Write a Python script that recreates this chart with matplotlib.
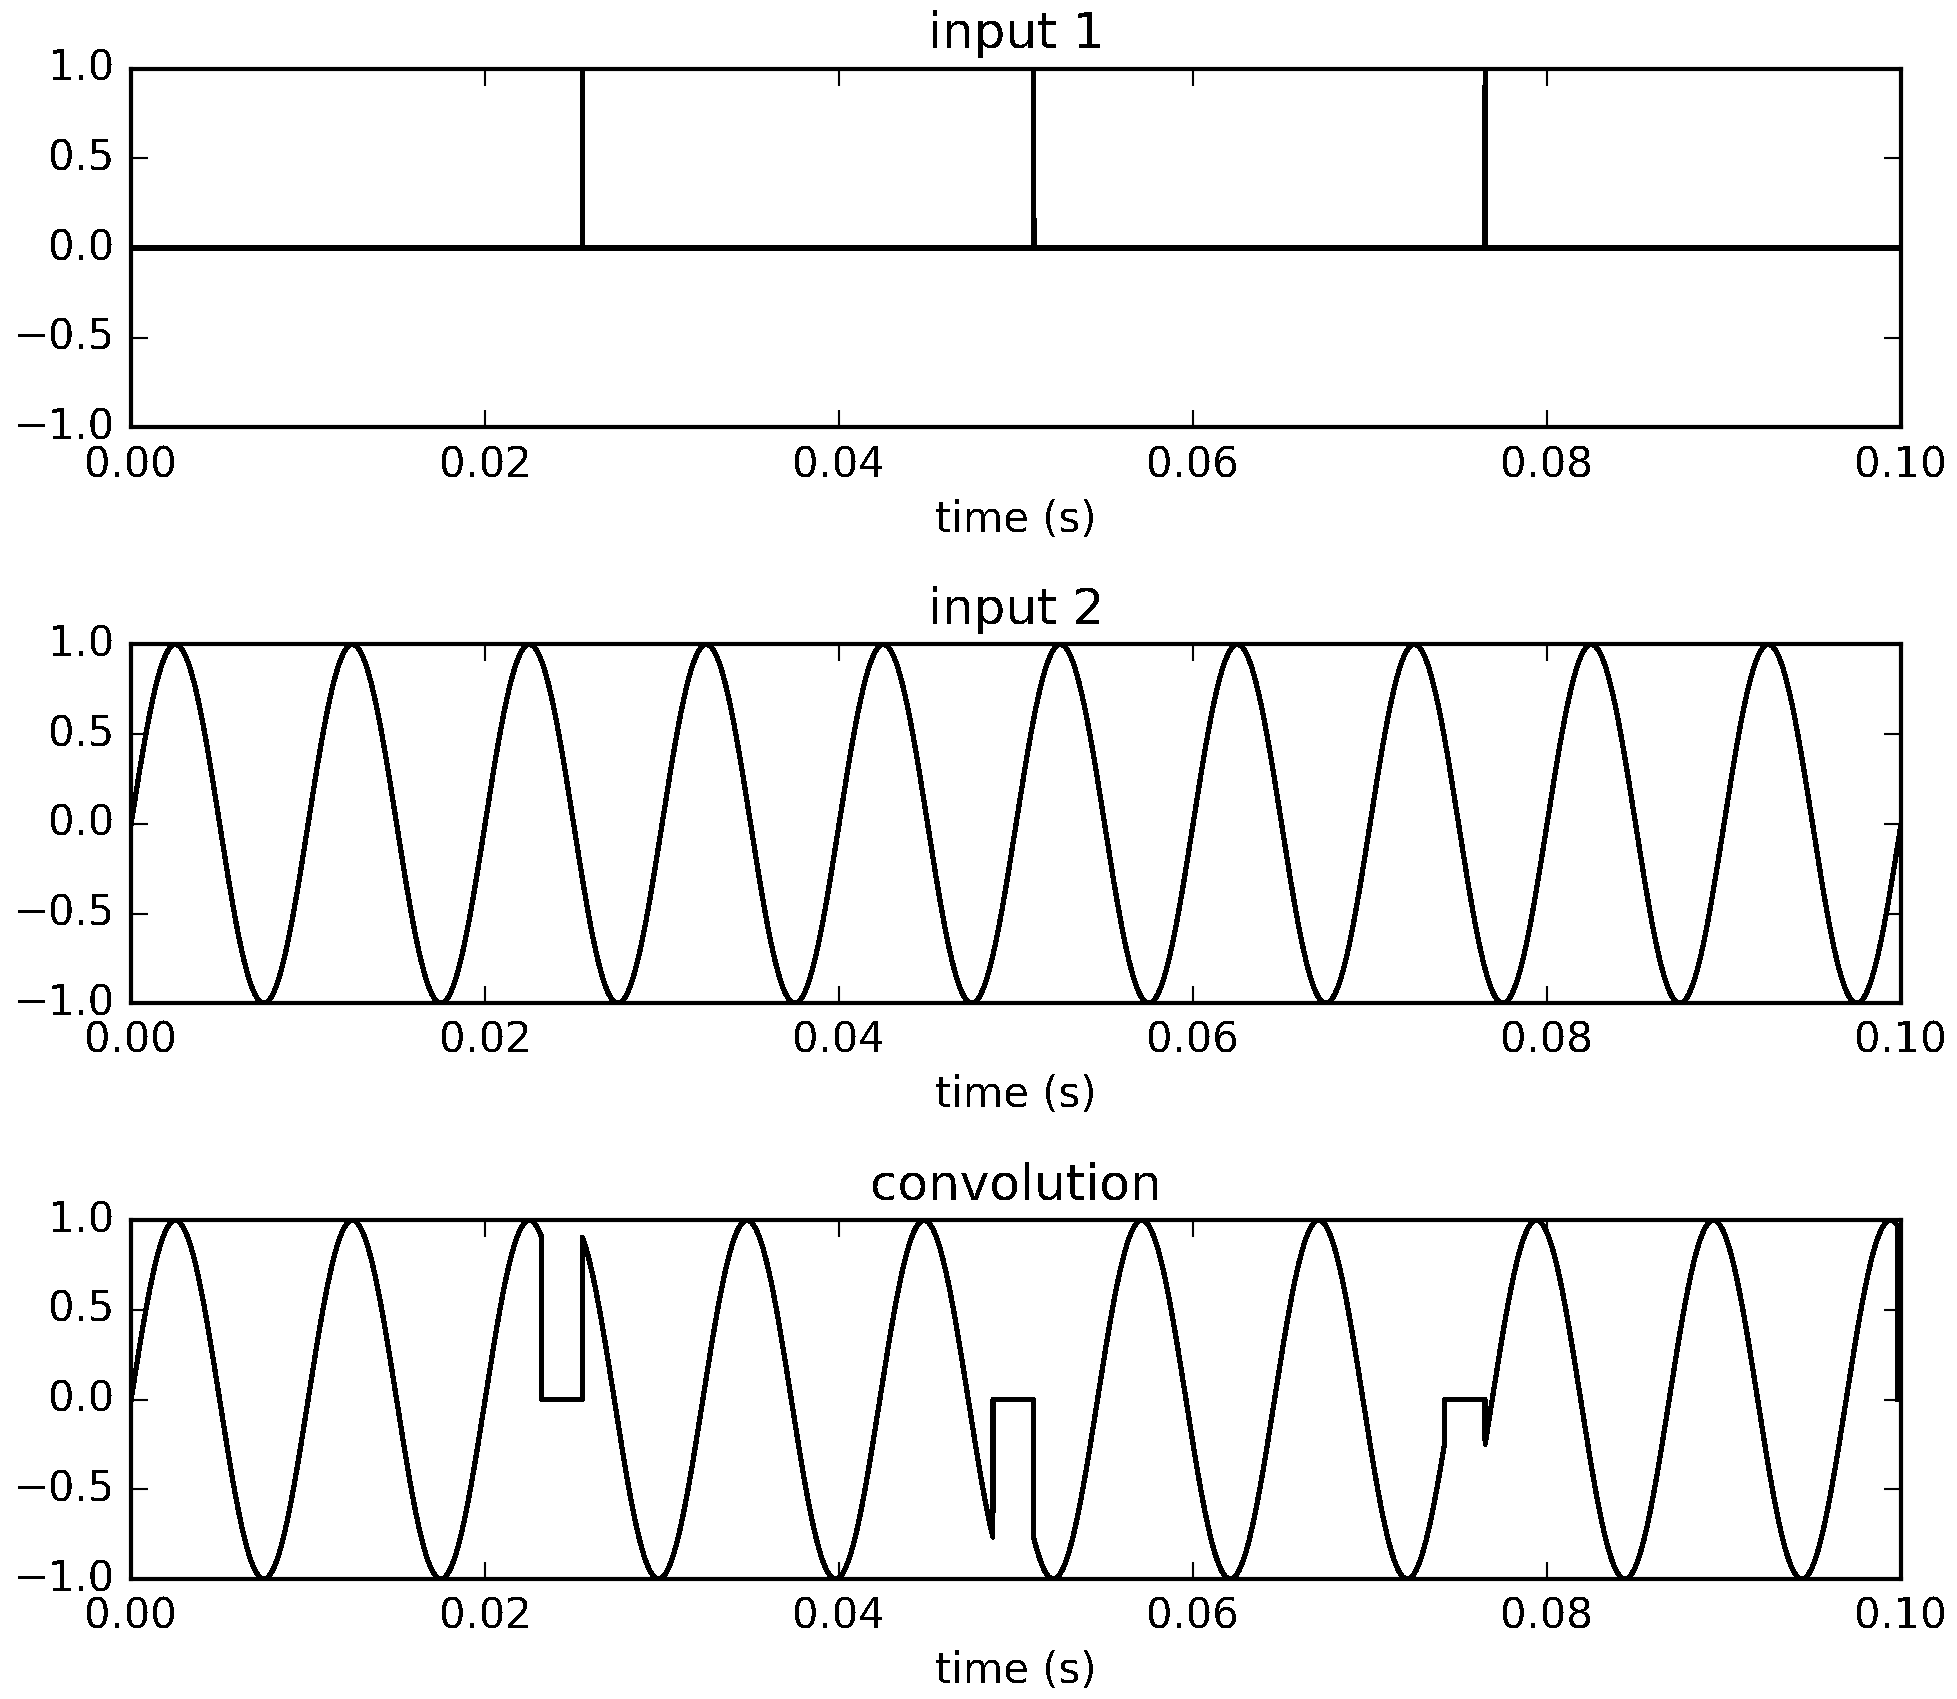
import numpy as np
import matplotlib
matplotlib.use("Agg")
import matplotlib.pyplot as plt

plt.style.use('classic')
plt.rcParams['font.size'] = 10
plt.rcParams['axes.titlesize'] = 12
plt.rcParams['lines.antialiased'] = False
plt.rcParams['text.antialiased'] = False

# values
sample_step = 0.00001         # s
t_stop = 0.1                  # s
sine_freq = 100.0             # Hz, input 2
sine_amp = 1.0
spike_times = [0.0255, 0.0510, 0.0765]     # input 1 impulses
gap_starts = [0.0232, 0.0487, 0.0742]      # convolution goes flat before each impulse
gap_ends = [0.0255, 0.0510, 0.0765]
conv_cutoff = 0.0998                       # convolution drops to 0 here

t = np.arange(0, t_stop, sample_step)

# input 1: spike train
spikes = np.zeros_like(t)
for st in spike_times:
    spikes[int(round(st / sample_step))] = 1.0

# input 2: sine
sine = sine_amp * np.sin(2 * np.pi * sine_freq * t)

# convolution: sine holds at 0 during each gap, then carries on where it left off
delay = np.zeros_like(t)
in_gap = np.zeros(t.shape, dtype=bool)
for g0, g1 in zip(gap_starts, gap_ends):
    in_gap |= (t >= g0) & (t < g1)
    delay += (g1 - g0) * (t >= g1)
conv = np.where(in_gap, 0.0, sine_amp * np.sin(2 * np.pi * sine_freq * (t - delay)))
conv[t >= conv_cutoff] = 0.0

fig = plt.figure(figsize=(1957 / 300, 1699 / 300), dpi=300)
fig.subplots_adjust(left=0.067, right=0.9714, bottom=0.0706, top=0.9596, hspace=0.605)

panels = [("input 1", spikes), ("input 2", sine), ("convolution", conv)]
for n, (title, sig) in enumerate(panels):
    ax = fig.add_subplot(3, 1, n + 1)
    ax.plot(t, sig, color='k', lw=1.0)
    ax.set_xlim(0, 0.1)
    ax.set_ylim(-1, 1)
    ax.set_xticks(np.arange(0, 0.101, 0.02))
    ax.set_yticks(np.arange(-1, 1.01, 0.5))
    ax.set_title(title)
    ax.set_xlabel("time (s)", labelpad=3)

fig.savefig("out.png", dpi=300, facecolor='white')
